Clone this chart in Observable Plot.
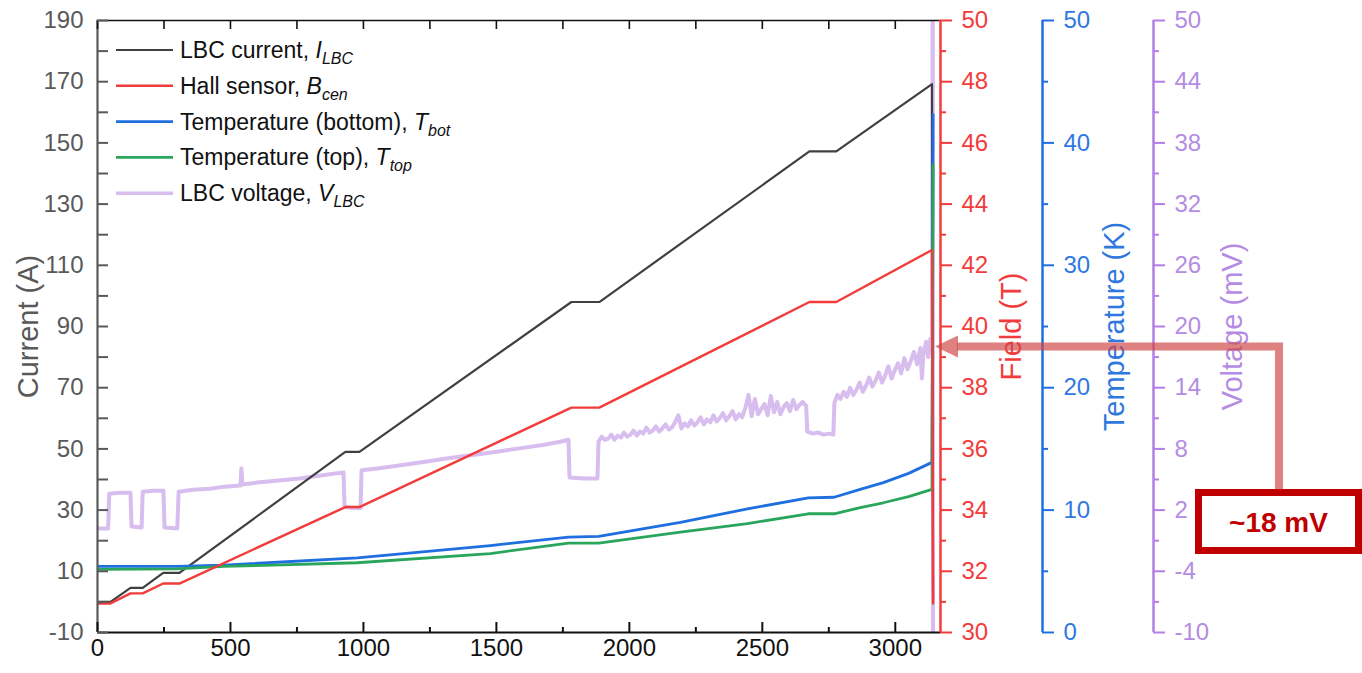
<!DOCTYPE html>
<html><head><meta charset="utf-8">
<script src="https://cdn.jsdelivr.net/npm/d3@7"></script>
<script src="https://cdn.jsdelivr.net/npm/@observablehq/plot@0.6"></script>
<style>
body{margin:0;background:#fff;font-family:"Liberation Sans",Arial,sans-serif}
#chart svg{display:block}
</style>
</head><body><div id="chart"></div>
<script>
// ---------------- data ----------------
const xDomain = [0, 3170];
const yDomain = [-10, 190];                 // current (A), primary axis
const fieldDomain = [30, 50];               // T
const tempDomain = [0, 50];                 // K
const voltDomain = [-10, 50];               // mV

const xTicks = [0, 500, 1000, 1500, 2000, 2500, 3000];
const xMinorTicks = [250, 750, 1250, 1750, 2250, 2750];
const currentTicks = [-10, 10, 30, 50, 70, 90, 110, 130, 150, 170, 190];
const currentMinorTicks = [0, 20, 40, 60, 80, 100, 120, 140, 160, 180];
const fieldTicks = [30, 32, 34, 36, 38, 40, 42, 44, 46, 48, 50];
const fieldMinorTicks = [31, 33, 35, 37, 39, 41, 43, 45, 47, 49];
const tempTicks = [0, 10, 20, 30, 40, 50];
const tempMinorTicks = [5, 15, 25, 35, 45];
const voltTicks = [-10, -4, 2, 8, 14, 20, 26, 32, 38, 44, 50];
const voltMinorTicks = [-7, -1, 5, 11, 17, 23, 29, 35, 41, 47];

// LBC current I_LBC (A)
const currentT = [0, 49, 124, 170, 247, 308, 932, 985, 1782, 1887, 2677, 2778, 3138, 3142];
const currentA = [0, 0, 4.6, 4.6, 9.5, 9.5, 49, 49, 98, 98, 147.2, 147.2, 169.2, 0];

// Hall sensor B_cen (T)
const hallT = [0, 49, 124, 170, 247, 308, 932, 985, 1782, 1887, 2677, 2778, 3138, 3142];
const hallB = [30.95, 30.95, 31.28, 31.28, 31.6, 31.6, 34.1, 34.1, 37.35, 37.35, 40.8, 40.8, 42.5, 30.95];

// Temperature (bottom) T_bot (K)
const tBotT = [0, 300, 474, 977, 1477, 1771, 1885, 2192, 2444, 2673, 2770, 2868, 2955, 3050, 3138, 3142];
const tBotK = [5.4, 5.4, 5.5, 6.1, 7.1, 7.8, 7.85, 9.0, 10.1, 11.0, 11.05, 11.7, 12.25, 13.0, 13.9, 42.3];

// Temperature (top) T_top (K)
const tTopT = [0, 300, 474, 977, 1477, 1771, 1885, 2192, 2444, 2673, 2770, 2868, 2955, 3050, 3138, 3142];
const tTopK = [5.15, 5.2, 5.4, 5.7, 6.45, 7.3, 7.3, 8.2, 8.9, 9.7, 9.7, 10.2, 10.6, 11.1, 11.7, 38.2];

// LBC voltage V_LBC (mV)
const voltT = [0, 40, 44, 80, 124, 128, 166, 170, 210, 248, 252, 300, 305, 360, 420, 480, 538, 541, 545, 600, 680, 760, 840, 925, 929, 960, 989, 993, 1060, 1140, 1220, 1300, 1380, 1440, 1520, 1600, 1680, 1740, 1771, 1775, 1830, 1880,
  1884, 1896, 1908, 1920, 1932, 1944, 1956, 1968, 1980, 1992, 2004, 2016, 2028, 2040, 2052, 2064, 2076, 2088, 2100, 2112, 2124, 2136, 2148, 2160, 2172, 2184, 2196, 2208, 2220, 2232, 2244, 2256, 2268, 2280, 2292, 2304, 2316, 2328, 2340, 2352, 2364, 2376, 2388, 2400, 2412, 2424, 2436, 2448, 2460, 2472, 2484, 2496, 2508, 2520, 2532, 2544, 2556, 2568, 2580, 2592, 2604, 2616, 2628, 2640, 2652, 2665,
  2669, 2690, 2710, 2730, 2750, 2767,
  2771, 2782, 2794, 2806, 2818, 2830, 2842, 2854, 2866, 2878, 2890, 2902, 2914, 2926, 2938, 2950, 2962, 2974, 2986, 2998, 3010, 3022, 3034, 3046, 3058, 3070, 3082, 3094, 3100, 3106, 3116, 3124, 3132, 3138, 3141, 3142];
const voltMV = [0.2, 0.2, 3.6, 3.7, 3.7, 0.4, 0.3, 3.8, 3.9, 3.9, 0.3, 0.2, 3.8, 4.0, 4.1, 4.3, 4.4, 6.1, 4.5, 4.7, 4.9, 5.1, 5.4, 5.7, 2.3, 2.2, 2.2, 5.9, 6.1, 6.4, 6.7, 7.0, 7.3, 7.5, 7.8, 8.1, 8.4, 8.7, 8.9, 5.2, 5.1, 5.1,
  8.7, 9.2, 8.9, 9.0, 9.4, 8.9, 9.3, 9.1, 9.6, 9.2, 9.4, 9.8, 9.3, 9.7, 9.5, 10.1, 9.6, 9.8, 10.2, 9.7, 10.0, 10.4, 9.9, 10.1, 10.6, 11.3, 10.0, 10.5, 10.2, 10.8, 10.3, 10.6, 11.1, 10.4, 10.9, 10.6, 11.3, 10.7, 11.0, 11.5, 10.8, 11.2, 11.7, 10.9, 11.4, 11.1, 12.0, 13.3, 11.2, 12.9, 11.4, 11.9, 12.4, 11.3, 13.2, 11.6, 12.6, 11.4, 12.1, 12.5, 11.7, 12.8, 11.9, 12.3, 12.6, 12.2,
  9.7, 9.5, 9.6, 9.4, 9.5, 9.4,
  12.5, 13.3, 12.9, 13.6, 13.1, 14.0, 13.3, 13.8, 14.5, 13.6, 14.2, 15.0, 14.1, 14.7, 15.5, 14.5, 15.2, 16.1, 14.9, 15.7, 16.4, 15.4, 16.9, 15.8, 16.6, 17.5, 16.3, 17.9, 14.9, 17.4, 18.5, 17.0, 18.8, 18.2, 60, -15];

const annotationMV = 18;
const annotationText = "~18 mV";

// ---------------- styling ----------------
const W = 1362, H = 673, mL = 97, mR = 422, mT = 20, mB = 41;
const frameW = W - mL - mR, frameH = H - mT - mB;
const FONT = "Liberation Sans, Arial, sans-serif";
const TICK_FS = 24, TITLE_FS = 29;
const cBlack = "#404040", cRed = "#f23c3c", cBlue = "#1f6fe0", cGreen = "#2aa65c", cPurple = "#d8bdef";
const cRedAxis = "#f23c3c", cBlueAxis = "#1f6fe0", cPurpleAxis = "#b47ee6", cPurpleText = "#b48ce4";
const cGrey = "#595959";
const offTemp = 102, offVolt = 213;

const bToY = d3.scaleLinear(fieldDomain, yDomain);
const kToY = d3.scaleLinear(tempDomain, yDomain);
const vToY = d3.scaleLinear(voltDomain, yDomain);

const rows = (ts, vs, f) => ts.map((t, i) => ({t, y: f(vs[i])}));
const id = d => d;
const currentRows = rows(currentT, currentA, id);
const hallRows = rows(hallT, hallB, bToY);
const tBotRows = rows(tBotT, tBotK, kToY);
const tTopRows = rows(tTopT, tTopK, kToY);
const voltRows = rows(voltT, voltMV, vToY);

function rightAxis(ticks, minor, conv, color, textColor, off, title, titleOff) {
  return [
    Plot.ruleX([xDomain[1]], {x: id, dx: off, stroke: color, strokeWidth: 2.5}),
    Plot.tickY(ticks.map(conv), {y: id, insetLeft: frameW, insetRight: -12, dx: off, stroke: color, strokeWidth: 2}),
    Plot.tickY(minor.map(conv), {y: id, insetLeft: frameW, insetRight: -6, dx: off, stroke: color, strokeWidth: 2}),
    Plot.text(ticks, {y: d => conv(d), text: d => String(d), frameAnchor: "right", dx: off + 21, textAnchor: "start", fontSize: TICK_FS, fill: textColor}),
    Plot.text([title], {frameAnchor: "right", dx: off + titleOff, rotate: -90, textAnchor: "middle", fontSize: TITLE_FS, fill: textColor})
  ];
}

const plot = Plot.plot({
  width: W, height: H,
  marginLeft: mL, marginRight: mR, marginTop: mT, marginBottom: mB,
  style: {fontFamily: FONT, background: "white", overflow: "visible"},
  x: {domain: xDomain, axis: null},
  y: {domain: yDomain, axis: null},
  marks: [
    // data lines
    Plot.line(voltRows, {x: "t", y: "y", stroke: cPurple, strokeWidth: 4, clip: true}),
    Plot.line(currentRows, {x: "t", y: "y", stroke: cBlack, strokeWidth: 2.2, clip: true}),
    Plot.line(tBotRows, {x: "t", y: "y", stroke: cBlue, strokeWidth: 2.8, clip: true}),
    Plot.line(tTopRows, {x: "t", y: "y", stroke: cGreen, strokeWidth: 2.8, clip: true}),
    Plot.line(hallRows, {x: "t", y: "y", stroke: cRed, strokeWidth: 2.4, clip: true}),

    // frame lines
    Plot.ruleY([yDomain[0]], {y: id, stroke: "#111", strokeWidth: 2.2}),
    Plot.ruleY([yDomain[1]], {y: id, stroke: "#111", strokeWidth: 1.6}),
    Plot.ruleX([xDomain[0]], {x: id, stroke: cGrey, strokeWidth: 2.2}),

    // bottom ticks (inward) and labels
    Plot.tickX(xTicks, {x: id, insetTop: frameH - 10, stroke: "#111", strokeWidth: 2}),
    Plot.tickX(xMinorTicks, {x: id, insetTop: frameH - 5, stroke: "#111", strokeWidth: 2}),
    Plot.text(xTicks, {x: id, text: d => String(d), frameAnchor: "bottom", dy: 23, textAnchor: "middle", fontSize: TICK_FS, fill: "#111"}),
    // top ticks (inward)
    Plot.tickX(xTicks.concat(xMinorTicks), {x: id, insetBottom: frameH - 9, stroke: "#111", strokeWidth: 1.6}),

    // left ticks (inward), labels, title
    Plot.tickY(currentTicks.concat(currentMinorTicks), {y: id, insetRight: frameW - 11, stroke: cGrey, strokeWidth: 2}),
    Plot.text(currentTicks, {y: id, text: d => String(d), frameAnchor: "left", dx: -14, textAnchor: "end", fontSize: TICK_FS, fill: cGrey}),
    Plot.text(["Current (A)"], {frameAnchor: "left", dx: -69, rotate: -90, textAnchor: "middle", fontSize: TITLE_FS, fill: cGrey}),

    // right axes
    ...rightAxis(fieldTicks, fieldMinorTicks, bToY, cRedAxis, cRedAxis, 0, "Field (T)", 71),
    ...rightAxis(tempTicks, tempMinorTicks, kToY, cBlueAxis, "#2f78e0", offTemp, "Temperature (K)", 72),
    ...rightAxis(voltTicks, voltMinorTicks, vToY, cPurpleAxis, cPurpleText, offVolt, "Voltage (mV)", 79)
  ]
});

const svg = d3.select(plot);

// ---------------- legend ----------------
const legendItems = [
  {name: "LBC current, ", sym: "I", sub: "LBC", color: cBlack, w: 2.2},
  {name: "Hall sensor, ", sym: "B", sub: "cen", color: cRed, w: 2.4},
  {name: "Temperature (bottom), ", sym: "T", sub: "bot", color: cBlue, w: 2.8},
  {name: "Temperature (top), ", sym: "T", sub: "top", color: cGreen, w: 2.8},
  {name: "LBC voltage, ", sym: "V", sub: "LBC", color: cPurple, w: 3.5}
];
const lg = svg.append("g").attr("font-family", FONT).attr("text-anchor", "start");
legendItems.forEach((it, i) => {
  const y = 50 + i * 35.8;
  lg.append("line").attr("x1", 116).attr("x2", 173).attr("y1", y).attr("y2", y)
    .attr("stroke", it.color).attr("stroke-width", it.w);
  const t = lg.append("text").attr("x", 180).attr("y", y).attr("dy", "0.35em")
    .attr("text-anchor", "start").attr("font-size", 23).attr("fill", "#111");
  t.append("tspan").text(it.name);
  t.append("tspan").attr("font-style", "italic").text(it.sym);
  t.append("tspan").attr("font-style", "italic").attr("font-size", 16).attr("dy", 6).text(it.sub);
});

// ---------------- annotation ----------------
const xs = plot.scale("x"), ys = plot.scale("y");
const ay = ys.apply(vToY(annotationMV));
const tipX = xs.apply(xDomain[1]) - 5;
const boxX = 1198.5, boxY = 492.5, boxW = 160, boxH = 58;
const stemX = 1279;
const ann = svg.append("g");
const arrowCol = "rgba(208,70,70,0.68)";
ann.append("path")
  .attr("d", `M${stemX},${boxY - 3} V${ay} H${tipX + 22}`)
  .attr("fill", "none").attr("stroke", arrowCol).attr("stroke-width", 8).attr("stroke-linejoin", "miter");
ann.append("path")
  .attr("d", `M${tipX},${ay} L${tipX + 23},${ay - 11} L${tipX + 23},${ay + 11} Z`)
  .attr("fill", arrowCol);
ann.append("rect").attr("x", boxX).attr("y", boxY).attr("width", boxW).attr("height", boxH)
  .attr("fill", "white").attr("stroke", "#c00000").attr("stroke-width", 7);
ann.append("text").attr("x", boxX + boxW / 2).attr("y", boxY + boxH / 2).attr("dy", "0.36em")
  .attr("text-anchor", "middle").attr("font-family", FONT).attr("font-weight", "bold")
  .attr("font-size", 28).attr("fill", "#c00000").text(annotationText);

document.getElementById("chart").appendChild(plot);
</script></body></html>
